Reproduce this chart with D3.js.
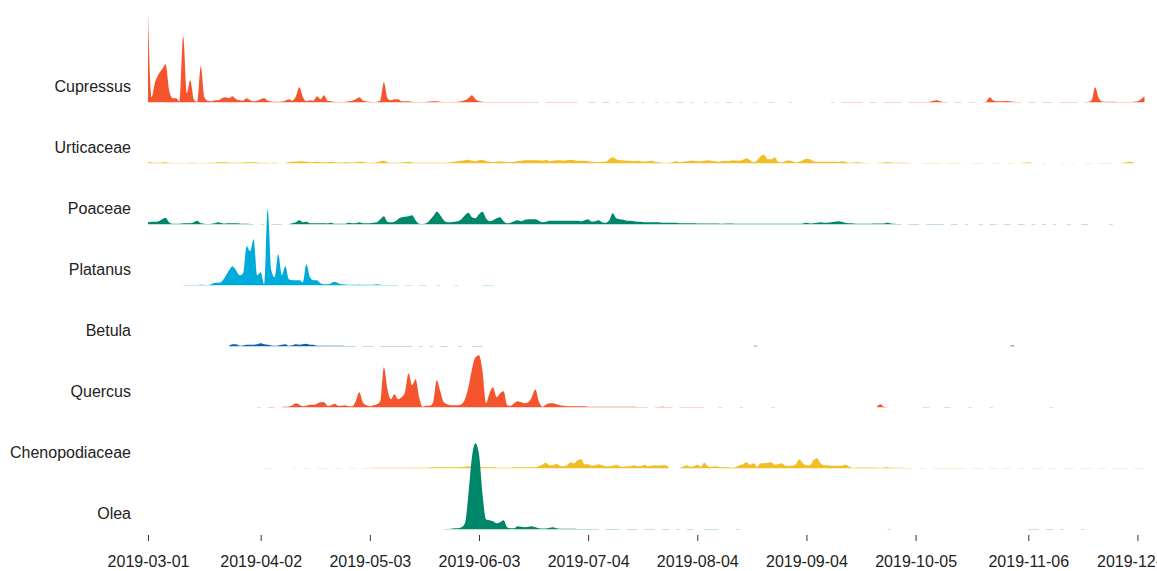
<!DOCTYPE html>
<meta charset="utf-8">
<script src="https://d3js.org/d3.v7.min.js"></script>
<style>
  body { margin: 0; background: #fff; }
  svg text { font-family: "Liberation Sans", Arial, sans-serif; }
</style>
<div id="ridges"></div>
<script>

// daily pollen counts, one array per taxon, starting at its first recorded day
var species = ["Cupressus", "Urticaceae", "Poaceae", "Platanus", "Betula", "Quercus", "Chenopodiaceae", "Olea"];
var startDates = ["2019-03-01", "2019-03-01", "2019-03-01", "2019-03-11", "2019-03-24", "2019-04-01", "2019-04-03", "2019-05-24"];
var colors = ["#f5542d", "#f2be26", "#00876a", "#00aadb", "#0d5eab", "#f5542d", "#f2be26", "#00876a"];
var tickDates = ["2019-03-01", "2019-04-02", "2019-05-03", "2019-06-03", "2019-07-04", "2019-08-04", "2019-09-04", "2019-10-05", "2019-11-06", "2019-12-07"];

var cupressus = [
  88,5,20,28,33,38,12,4,4,0.5, 66,9,22,3,0.3,36,5,1.5,1,2,
  2,4,5,4,6,3,2,1.5,4,2, 1,1.5,3,4,1.5,0.8,0.5,0.5,0.8,1.5,
  3,1.5,6,15,5,1,2,1.5,6,3, 7,1.5,1,0.5,0.3,0.3,0.5,1,1.5,3,
  5,2,0.8,0.5,0.3,0.5,2,20,4,2, 3,3,1,1,1,0.5,0.3,0.3,0.3,0.5,
  0.8,1,1,0.5,0.3,0.3,0.3,0.3,0.5,1, 2,4,7,3,1,0.5,0.3,0.3,0.3,0.3,
  0.3,0.3,0.3,0.3,0.3,0.3,0.3,0.3,0.3,0.3, 0.3,0.3,null,0.3,0.3,0.3,0.3,0.3,0.3,0.3,
  0.3,0.3,0.3,null,null,0.3,0.3,0.3,null,0.3, 0.3,0.3,null,0.3,0.3,null,0.3,0.3,0.3,null,
  0.3,0.3,null,null,0.3,0.3,null,0.3,0.3,null, 0.3,0.3,0.3,null,0.3,0.3,null,null,0.3,0.3,
  null,0.3,0.3,null,0.3,0.3,0.3,null,0.3,0.3, null,null,0.3,0.3,null,null,0.3,0.3,0.3,null,
  null,null,0.3,0.3,null,null,null,null,null,null, null,null,null,null,0.3,0.3,null,0.3,0.3,0.3,
  0.3,0.3,0.3,0.3,null,0.3,0.3,0.3,null,0.3, 0.3,0.3,0.3,0.3,0.3,null,0.3,0.3,0.3,0.3,
  0.3,0.3,0.5,1.5,2,1,0.3,0.3,null,0.3, 0.3,0.3,null,0.3,0.3,0.3,null,0.3,0.5,5,
  2,1,1,1,1.2,0.8,0.5,0.3,0.3,null, 0.3,0.3,0.3,null,0.3,0.3,0.3,0.3,null,0.3,
  0.3,0.3,0.3,0.3,0.3,null,0.3,0.3,2,15, 4,0.8,0.5,0.5,0.5,0.3,0.3,0.3,0.3,0.3,
  0.5,1,3,6
];

var urticaceae = [
  1,0.8,0.5,0.5,0.8,1,0.6,0.3,0.3,0.3, 0.3,0.3,0.5,0.5,0.3,0.3,0.3,0.3,0.5,0.5,
  1,1,1,0.8,0.5,0.5,0.5,0.8,1,0.8, 1,0.8,0.5,0.5,0.3,0.3,0.5,0.3,null,0.5,
  1,1.5,1.5,2,2,1.5,1,1,1.5,1, 1,1,1.5,1,0.8,0.8,1,0.8,0.8,1,
  1.5,1.2,0.8,0.5,0.5,1,2,2.5,1,0.5, 0.5,0.5,0.8,1,1.5,0.8,0.5,0.5,0.5,0.5,
  0.5,0.5,0.5,0.5,0.5,0.8,1,1.5,2,2.5, 3,3.5,2.5,2,3,3.5,2,1.5,1,1.5,
  2,1.5,1,1,1.5,2,2.5,3,3,3, 3,3,2.5,3.5,2,2.5,3,3,2.5,3,
  3.5,3,2.5,2.5,2.5,2,1.5,1,1,1.5, 1.5,4,6,4,3,3,2.5,2.5,2,2.5,
  2,1.5,2,2.5,1.5,1,0.5,0.5,0.5,1, 2,1,1.5,2,2.5,2.5,2,2,2.5,3,
  2.5,2,1.5,2,2.5,2,3,2.5,2.5,3.5, 5,3,1,3,7,8.5,4,4,6,1.5,
  1,2,3,2,1,1.5,3,4.5,4,2, 1.5,1.5,1.5,1.5,1.5,1.5,1,2,1.5,0.5,
  0.5,1,0.8,0.5,0.3,0.3,null,0.3,0.5,0.8, 1,0.8,0.5,0.5,0.5,0.5,0.3,0.3,null,null,
  0.3,0.3,0.3,0.3,0.3,0.3,null,0.3,0.3,0.3, 0.3,0.3,null,null,0.3,0.3,0.3,0.3,null,null,
  0.3,0.3,0.3,null,0.3,0.3,0.3,null,0.3,0.5, 0.8,0.5,null,null,0.3,0.3,null,null,null,0.3,
  0.3,null,0.3,0.3,null,null,0.3,0.3,0.3,null, 0.3,0.3,0.3,0.3,0.3,null,0.3,0.5,1,1.5,
  0.5
];

var poaceae = [
  2,2.5,2.5,3,5,6.5,2,0.5,0.5,0.5, 1,1,1,2,3.5,1,0.5,0.3,0.5,1,
  2,1,0.8,1,1,1,0.8,0.5,0.5,0.3, 0.3,null,0.3,0.3,null,0.3,0.3,0.3,0.3,null,
  0.3,1,2,4,2,2.5,1,1,1,1, 1,0.8,1.5,0.5,0.5,0.5,0.5,1.5,1,1,
  2,1,1,1,1.5,2,5,8,2.5,2, 2.5,5,7,7.5,8,9,4,0.5,0.3,1,
  4,8,12.5,9,4,2,2,2.5,3,5, 9,11.5,7,6,10,12.5,6,3,4,6,
  7,3,1,1.5,3,4,3,4.5,5,5, 5,3.5,2,2.5,3.5,3.5,3.5,3.5,3.5,3.5,
  3.5,3.5,3.5,3,4,5,2.5,3,4,2, 1.5,4,11,6,5,4.5,3.5,3.5,3,2.5,
  2.5,2,2,2,2,2,1.5,1.5,1.5,1.5, 1.5,1,1,1,1,1,0.8,0.8,0.8,0.8,
  0.8,0.8,0.8,0.5,0.8,0.8,0.8,0.5,0.5,0.5, 0.5,0.5,0.5,0.5,0.5,0.5,0.5,0.5,0.5,0.5,
  0.5,0.5,0.5,0.5,0.5,0.5,0.8,1.5,0.8,1, 1.5,2,1.5,1.5,2,2.5,3,2.5,1.5,1,
  1,0.5,0.5,0.5,0.5,0.5,0.8,0.8,0.8,0.8, 1.5,0.8,0.5,0.3,0.3,null,0.3,0.3,0.3,0.3,
  null,0.3,0.3,0.3,0.3,0.3,0.3,null,0.3,0.3, 0.3,null,0.3,0.3,null,null,0.3,0.3,null,0.3,
  0.3,0.3,null,0.3,0.3,0.3,null,0.3,0.3,0.3, null,0.3,0.3,null,0.3,0.3,null,0.3,0.3,null,
  null,0.3,0.3,null,null,0.3,0.3,0.3,null,null, null,null,null,0.3,0.3
];

var platanus = [
  0.3,0.3,0.3,0.3,0.3,0.5,0.3,0.3,1,2.5,
  2.5,4,9,15,19,15,10,12,39,34, 46,10,13,1,76,15,8,31,10,19,
  6,5,5,5,3,21,8,5,5,2, 1,1,2,3.5,2,1,0.8,0.5,0.5,0.5,
  0.8,0.5,0.5,0.5,0.5,1,0.5,0.3,0.3,0.3, 0.3,0.3,null,0.3,0.3,0.3,null,0.3,0.3,0.3,
  null,null,0.3,0.3,null,null,null,0.3,0.3,null, null,null,null,null,null,0.3,0.3,0.3,0.3
];

var betula = [
  0.5,2,2,0.5,0.8,1.5,1.5,
  1.5,2,3,2,1.5,0.8,0.5,0.8,1.5,2, 0.5,1,2,1.5,2,2.5,1.5,1.5,0.5,0.5,
  0.5,0.5,0.5,0.5,0.5,0.5,0.3,0.3,0.3,0.3, null,0.3,0.3,0.3,0.3,null,0.3,0.3,0.3,0.3,
  0.3,0.3,0.3,0.3,0.3,0.3,null,0.3,0.3,null, 0.3,0.3,null,0.3,0.3,0.3,null,null,0.3,0.3,
  null,null,0.3,0.3,0.3,0.3,null,null,null,null,
  null,null,null,null,null,null,null,null,null,null, null,null,null,null,null,null,null,null,null,null,
  null,null,null,null,null,null,null,null,null,null, null,null,null,null,null,null,null,null,null,null,
  null,null,null,null,null,null,null,null,null,null, null,null,null,null,null,null,null,null,null,null,
  null,null,null,null,null,null,null,null,null,null, null,null,0.6,0.6,null,null,null,null,null,null,
  null,null,null,null,null,null,null,null,null,null, null,null,null,null,null,null,null,null,null,null,
  null,null,null,null,null,null,null,null,null,null, null,null,null,null,null,null,null,null,null,null,
  null,null,null,null,null,null,null,null,null,null, null,null,null,null,null,null,null,null,null,null,
  null,null,null,null,null,0.8,0.8
];

var quercus = [
  0.3,0.3,null,0.3,0.3,0.3,null,0.3,0.5,
  0.8,2,4,2.5,1,1.5,2.5,2.5,3.5,5, 5,1.5,2,3.5,1.5,1.5,2,1,1,6,
  15,5,2,1,2,3,6,40,18,8, 13,8,10,15,34,22,28,10,0.5,1.5,
  1.5,5,27,16,5,3,2,2,2,3, 8,20,38,50,52,36,4,14,20,10,
  14,16,2,1.5,4,6,5,4,5,10, 18,6,0.5,2.5,4,4,3,2,1.5,1,
  1,1,1,1,1,0.5,0.5,0.5,0.5,0.5, 0.5,0.5,0.5,0.5,0.5,0.5,0.5,0.5,0.5,0.3,
  0.3,0.3,0.3,null,0.3,0.3,0.5,0.3,0.3,0.3, null,0.3,0.3,0.3,0.3,0.3,0.3,0.3,0.3,null,
  null,null,0.3,0.3,null,null,null,null,0.3,0.3, null,null,null,null,null,null,null,0.3,0.3,null,
  null,null,null,null,null,null,null,null,null,null, null,null,null,null,null,null,null,null,null,null,
  null,null,null,null,null,null,null,0.5,3,0.5,
  0.3,null,null,null,null,null,null,null,null,null, 0.3,0.3,0.3,null,null,null,0.3,0.3,0.3,null,
  null,null,null,0.3,0.3,null,null,null,null,0.3, 0.3,null,null,null,null,null,null,null,null,null,
  null,null,null,null,null,null,0.3,0.3
];

var chenopodiaceae = [
  0.3,0.3,0.3,null,null,null,null,
  null,0.3,0.3,null,0.3,0.3,0.3,null,0.3,0.3, 0.3,0.3,null,0.3,0.3,0.3,null,0.3,0.3,0.3,
  null,0.3,0.3,0.3,0.5,0.5,0.5,0.5,0.5,0.5, 0.5,0.5,0.5,0.5,0.5,0.5,0.5,0.5,0.5,0.5,
  0.8,1,1,1,1,1,1,1,1,1, 1.5,2,1.5,1,1,1,1,1,1,0.8,
  0.5,0.5,0.5,0.5,1,1,1,1,1,1, 1,2,3.5,5.5,3,3,4.5,2.5,2,3,
  6,5,8,9,4,4,2.5,3,4,3, 2,2,2.5,3.5,2,1.5,2,2,3,2,
  2,3.5,2,2.5,3,2.5,3,3,0.5,null, null,0.5,1.5,3,1.5,2,3.5,1.5,5.5,2,
  1.5,2,1.5,1,1,1,0.5,1.5,3,4, 6,3.5,5,1.5,5,5,5.5,6,3.5,4,
  5,2.5,2.5,2.5,4,9,5,3,3,8, 10,5,3,3,2.5,2.5,2.5,2.5,3.5,2,
  0.5,0.8,0.8,0.8,0.8,0.8,0.8,0.5,0.5,0.8, 1,0.5,0.5,0.5,0.5,0.3,0.3,0.3,null,0.3,
  0.3,0.3,null,0.3,0.3,0.3,0.3,0.3,0.3,0.3, 0.3,0.3,0.3,null,0.3,0.3,0.3,0.3,null,0.3,
  0.3,0.3,null,0.3,0.3,0.3,null,0.3,0.3,0.3, null,0.3,0.3,0.3,0.3,null,0.3,0.3,0.3,null,
  0.3,0.3,0.3,0.3,null,0.3,0.3,0.3,0.3,null, 0.3,0.3,0.3,null,0.3,0.3,0.3,0.3,0.3,null,
  0.3,0.3,0.3,0.3
];

var olea = [
  0.3,0.3,0.5,1,1,2,
  6,35,72,86,75,35,10,9,8,6, 7,9,2,1,1,3,2.5,2,2.5,3,
  2,1,0.8,0.8,1.5,2,1,0.5,0.5,0.5, 0.5,0.5,0.3,0.3,0.3,0.3,0.3,0.3,0.3,null,
  0.3,0.3,0.3,0.3,0.3,null,0.3,0.3,0.3,0.3, null,0.3,0.3,0.3,0.3,null,0.3,0.3,0.3,null,
  0.3,0.3,null,0.3,0.3,0.3,null,null,0.3,0.3, 0.3,0.3,0.3,null,null,null,null,0.3,0.3,null,
  null,null,null,null,null,null,null,null,null,null, null,null,null,null,null,null,null,null,null,null,
  null,null,null,null,null,null,null,null,null,null, null,null,null,null,null,null,null,null,null,null,
  0.3,0.3,null,null,null,null,null,null,null,null,
  null,null,null,null,null,null,null,null,null,null, null,null,null,null,null,null,null,null,null,null,
  null,null,null,null,null,null,null,null,null,null, 0.3,0.3,0.3,0.3,null,0.3,0.3,0.3,null,0.3,
  0.3,null,null,null,null,0.3,0.3
];

var seriesValues = [cupressus, urticaceae, poaceae, platanus, betula, quercus, chenopodiaceae, olea];

var width = 1157,
    height = 571;

var parseDate = d3.timeParse("%Y-%m-%d");

var svg = d3.select("#ridges")
  .append("svg")
    .attr("width", width)
    .attr("height", height);

var x = d3.scaleTime()
  .domain([parseDate("2019-03-01"), parseDate("2019-12-10")])
  .range([148, 1148]);

// baseline of each ridge
var row = d3.scalePoint()
  .domain(species)
  .range([102.3, 529.3]);

// same height scale for all taxa so the ridges are comparable
var h = d3.scaleLinear()
  .domain([0, 100])
  .range([0, 100]);

var area = d3.area()
  .defined(function(d) { return d.value != null; })
  .curve(d3.curveMonotoneX)
  .x(function(d) { return x(d.date); })
  .y0(0)
  .y1(function(d) { return -h(d.value); });

species.forEach(function(name, i) {
  var start = parseDate(startDates[i]);
  var data = seriesValues[i].map(function(v, k) {
    return {date: d3.timeDay.offset(start, k), value: v};
  });

  var g = svg.append("g")
    .attr("transform", "translate(0," + row(name) + ")");

  g.append("path")
    .datum(data)
    .attr("d", area)
    .attr("fill", colors[i]);

  svg.append("text")
    .attr("x", 131)
    .attr("y", row(name) - 10)
    .attr("text-anchor", "end")
    .style("font-size", "16px")
    .style("fill", "#222")
    .text(name);
});

var xAxis = svg.append("g")
  .attr("transform", "translate(0,535)")
  .call(d3.axisBottom(x)
    .tickValues(tickDates.map(parseDate))
    .tickFormat(d3.timeFormat("%Y-%m-%d"))
    .tickSize(6)
    .tickPadding(15));

xAxis.select(".domain").remove();
xAxis.selectAll(".tick line").attr("stroke", "#333");
xAxis.selectAll("text")
  .attr("font-family", "Liberation Sans, Arial, sans-serif")
  .attr("font-size", 16)
  .attr("fill", "#222");

</script>
